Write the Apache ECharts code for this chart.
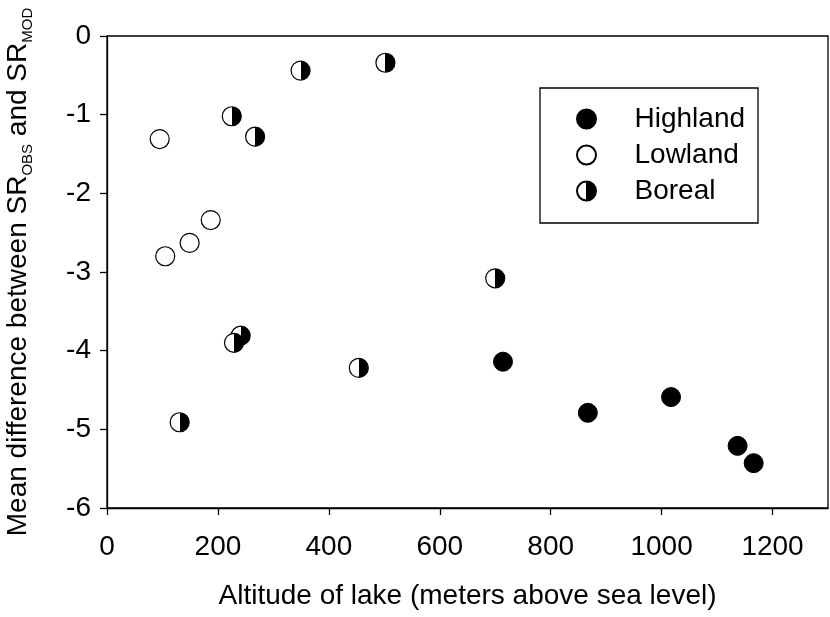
<!DOCTYPE html>
<html>
<head>
<meta charset="utf-8">
<script src="https://cdn.jsdelivr.net/npm/echarts@6/dist/echarts.min.js"></script>
<style>
  html, body { margin: 0; padding: 0; background: #fff; }
  #chart { width: 830px; height: 617px; }
</style>
</head>
<body>
<div id="chart"></div>
<script>
// data: [altitude, mean difference]
const highland = [[714, -4.14], [867, -4.79], [1017, -4.59], [1137, -5.21], [1166, -5.43]];
const lowland = [[95, -1.31], [105, -2.80], [149, -2.63], [187, -2.34]];
const boreal = [
  [225, -1.02], [267, -1.28], [349, -0.44], [502, -0.34], [700, -3.08],
  [241, -3.81], [229, -3.90], [454, -4.22], [131, -4.91]
];
const xTicks = [0, 200, 400, 600, 800, 1000, 1200];
const yTicks = [0, -1, -2, -3, -4, -5, -6];

const FONT = "'Liberation Sans', Arial, sans-serif";
const FS = 28;
const halfFill = new echarts.graphic.LinearGradient(0, 0, 1, 0, [
  { offset: 0, color: '#fff' },
  { offset: 0.5, color: '#fff' },
  { offset: 0.5, color: '#000' },
  { offset: 1, color: '#000' }
]);

const chart = echarts.init(document.getElementById('chart'), null, { renderer: 'canvas' });

const axisCommon = {
  axisLine: { show: true, onZero: false, lineStyle: { color: '#000', width: 1.3 } },
  axisTick: { show: true, inside: false, length: 7, lineStyle: { color: '#000', width: 1.3 } },
  splitLine: { show: false },
  nameTextStyle: { color: '#000', fontFamily: FONT, fontSize: FS }
};

chart.setOption({
  animation: false,
  backgroundColor: '#fff',
  textStyle: { fontFamily: FONT },
  grid: {
    left: 107, right: 2, top: 36, bottom: 109,
    show: true, borderColor: '#000', borderWidth: 1.3,
    containLabel: false, outerBoundsMode: 'none'
  },
  legend: {
    orient: 'vertical',
    left: 540, top: 88,
    data: ['Highland', 'Lowland', 'Boreal'],
    borderColor: '#000', borderWidth: 1.3,
    padding: [17, 13, 18, 36],
    itemWidth: 86, itemHeight: 19, itemGap: 8,
    selectedMode: false,
    textStyle: { color: '#000', fontFamily: FONT, fontSize: FS }
  },
  xAxis: Object.assign({}, axisCommon, {
    type: 'value',
    min: 0, max: 1300, interval: 200,
    name: 'Altitude of lake (meters above sea level)',
    nameLocation: 'middle', nameGap: 74,
    axisTick: Object.assign({}, axisCommon.axisTick, { customValues: xTicks }),
    axisLabel: {
      customValues: xTicks, color: '#000', fontFamily: FONT, fontSize: FS, margin: 25,
      formatter: v => String(v)
    }
  }),
  yAxis: Object.assign({}, axisCommon, {
    type: 'value',
    min: -6, max: 0, interval: 1,
    name: '{m|Mean difference between SR}{s|OBS}{m| and SR}{s|MOD}',
    nameLocation: 'middle', nameGap: 72,
    nameTextStyle: {
      color: '#000', fontFamily: FONT, fontSize: FS,
      rich: {
        m: { fontFamily: FONT, fontSize: FS, color: '#000', lineHeight: 34, verticalAlign: 'middle' },
        s: { fontFamily: FONT, fontSize: 15, color: '#000', lineHeight: 34, verticalAlign: 'bottom' }
      }
    },
    axisTick: Object.assign({}, axisCommon.axisTick, { customValues: yTicks }),
    axisLabel: {
      customValues: yTicks, color: '#000', fontFamily: FONT, fontSize: FS, margin: 16,
      formatter: v => String(v)
    }
  }),
  series: [
    {
      name: 'Highland', type: 'scatter', data: highland,
      symbol: 'circle', symbolSize: 19,
      itemStyle: { color: '#000', borderColor: '#000', borderWidth: 1, opacity: 1 }
    },
    {
      name: 'Lowland', type: 'scatter', data: lowland,
      symbol: 'circle', symbolSize: 19,
      itemStyle: { color: '#fff', borderColor: '#000', borderWidth: 1.2, opacity: 1 }
    },
    {
      name: 'Boreal', type: 'scatter', data: boreal,
      symbol: 'circle', symbolSize: 19,
      itemStyle: { color: halfFill, borderColor: '#000', borderWidth: 1.2, opacity: 1 }
    }
  ]
});
</script>
</body>
</html>
